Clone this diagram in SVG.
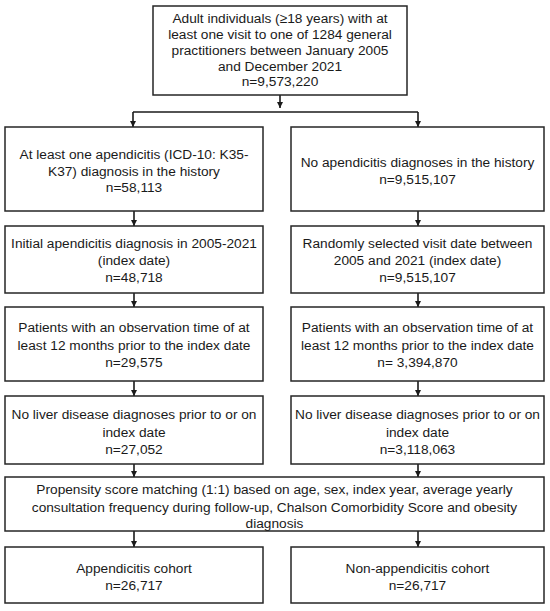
<svg xmlns="http://www.w3.org/2000/svg" width="550" height="611" viewBox="0 0 550 611">
<defs>
<marker id="ah" viewBox="0 0 10 10" refX="10" refY="5" markerWidth="6" markerHeight="6" markerUnits="userSpaceOnUse" orient="auto">
<path d="M0,0 L10,5 L0,10 z" fill="#1a1a1a"/>
</marker>
<style>
.box{fill:#fff;stroke:#262626;stroke-width:1.5}
.t{font-family:"Liberation Sans",Arial,sans-serif;font-size:13.7px;fill:#1a1a1a;text-anchor:middle}
.c{stroke:#1a1a1a;stroke-width:1.6;fill:none}
.a{stroke:#1a1a1a;stroke-width:1.6;fill:none;marker-end:url(#ah)}
</style>
</defs>
<rect width="550" height="611" fill="#fff"/>
<g id="connectors">
<line class="a" x1="280" y1="95" x2="280" y2="108"/>
<line class="c" x1="133" y1="112" x2="418" y2="112"/>
<line class="a" x1="133" y1="112" x2="133" y2="127"/>
<line class="a" x1="418" y1="112" x2="418" y2="127"/>
<line class="a" x1="134" y1="211" x2="134" y2="226"/>
<line class="a" x1="418" y1="211" x2="418" y2="226"/>
<line class="a" x1="134" y1="293" x2="134" y2="307"/>
<line class="a" x1="418" y1="293" x2="418" y2="307"/>
<line class="a" x1="134" y1="381" x2="134" y2="396"/>
<line class="a" x1="418" y1="381" x2="418" y2="396"/>
<line class="a" x1="134" y1="464" x2="134" y2="477"/>
<line class="a" x1="418" y1="464" x2="418" y2="477"/>
<line class="a" x1="134" y1="531" x2="134" y2="547"/>
<line class="a" x1="418" y1="531" x2="418" y2="547"/>
</g>
<g id="n0">
<rect class="box" x="153" y="6" width="254" height="89"/>
<text class="t" x="280" y="23">Adult individuals (≥18 years) with at</text>
<text class="t" x="280" y="39">least one visit to one of 1284 general</text>
<text class="t" x="280" y="55">practitioners between January 2005</text>
<text class="t" x="280" y="71">and December 2021</text>
<text class="t" x="280" y="86">n=9,573,220</text>
</g>
<g id="nL1">
<rect class="box" x="5" y="127" width="258" height="84"/>
<text class="t" x="134" y="159">At least one apendicitis (ICD-10: K35-</text>
<text class="t" x="134" y="176">K37) diagnosis in the history</text>
<text class="t" x="134" y="192">n=58,113</text>
</g>
<g id="nR1">
<rect class="box" x="291" y="127" width="253" height="84"/>
<text class="t" x="417.5" y="167">No apendicitis diagnoses in the history</text>
<text class="t" x="417.5" y="184">n=9,515,107</text>
</g>
<g id="nL2">
<rect class="box" x="5" y="226" width="258" height="67"/>
<text class="t" x="134" y="248">Initial apendicitis diagnosis in 2005-2021</text>
<text class="t" x="134" y="265">(index date)</text>
<text class="t" x="134" y="282">n=48,718</text>
</g>
<g id="nR2">
<rect class="box" x="291" y="226" width="253" height="67"/>
<text class="t" x="417.5" y="248">Randomly selected visit date between</text>
<text class="t" x="417.5" y="265">2005 and 2021 (index date)</text>
<text class="t" x="417.5" y="282">n=9,515,107</text>
</g>
<g id="nL3">
<rect class="box" x="5" y="307" width="258" height="74"/>
<text class="t" x="134" y="332">Patients with an observation time of at</text>
<text class="t" x="134" y="350">least 12 months prior to the index date</text>
<text class="t" x="134" y="367">n=29,575</text>
</g>
<g id="nR3">
<rect class="box" x="291" y="307" width="253" height="74"/>
<text class="t" x="417.5" y="332">Patients with an observation time of at</text>
<text class="t" x="417.5" y="350">least 12 months prior to the index date</text>
<text class="t" x="417.5" y="367">n= 3,394,870</text>
</g>
<g id="nL4">
<rect class="box" x="5" y="396" width="258" height="68"/>
<text class="t" x="134" y="419">No liver disease diagnoses prior to or on</text>
<text class="t" x="134" y="437">index date</text>
<text class="t" x="134" y="454">n=27,052</text>
</g>
<g id="nR4">
<rect class="box" x="291" y="396" width="253" height="68"/>
<text class="t" x="417.5" y="419">No liver disease diagnoses prior to or on</text>
<text class="t" x="417.5" y="437">index date</text>
<text class="t" x="417.5" y="454">n=3,118,063</text>
</g>
<g id="nPSM">
<rect class="box" x="5" y="477" width="539" height="54"/>
<text class="t" x="274.5" y="494">Propensity score matching (1:1) based on age, sex, index year, average yearly</text>
<text class="t" x="274.5" y="512">consultation frequency during follow-up, Chalson Comorbidity Score and obesity</text>
<text class="t" x="274.5" y="528">diagnosis</text>
</g>
<g id="nL5">
<rect class="box" x="5" y="547" width="258" height="56"/>
<text class="t" x="134" y="573">Appendicitis cohort</text>
<text class="t" x="134" y="590">n=26,717</text>
</g>
<g id="nR5">
<rect class="box" x="291" y="547" width="253" height="56"/>
<text class="t" x="417.5" y="573">Non-appendicitis cohort</text>
<text class="t" x="417.5" y="590">n=26,717</text>
</g>
</svg>
